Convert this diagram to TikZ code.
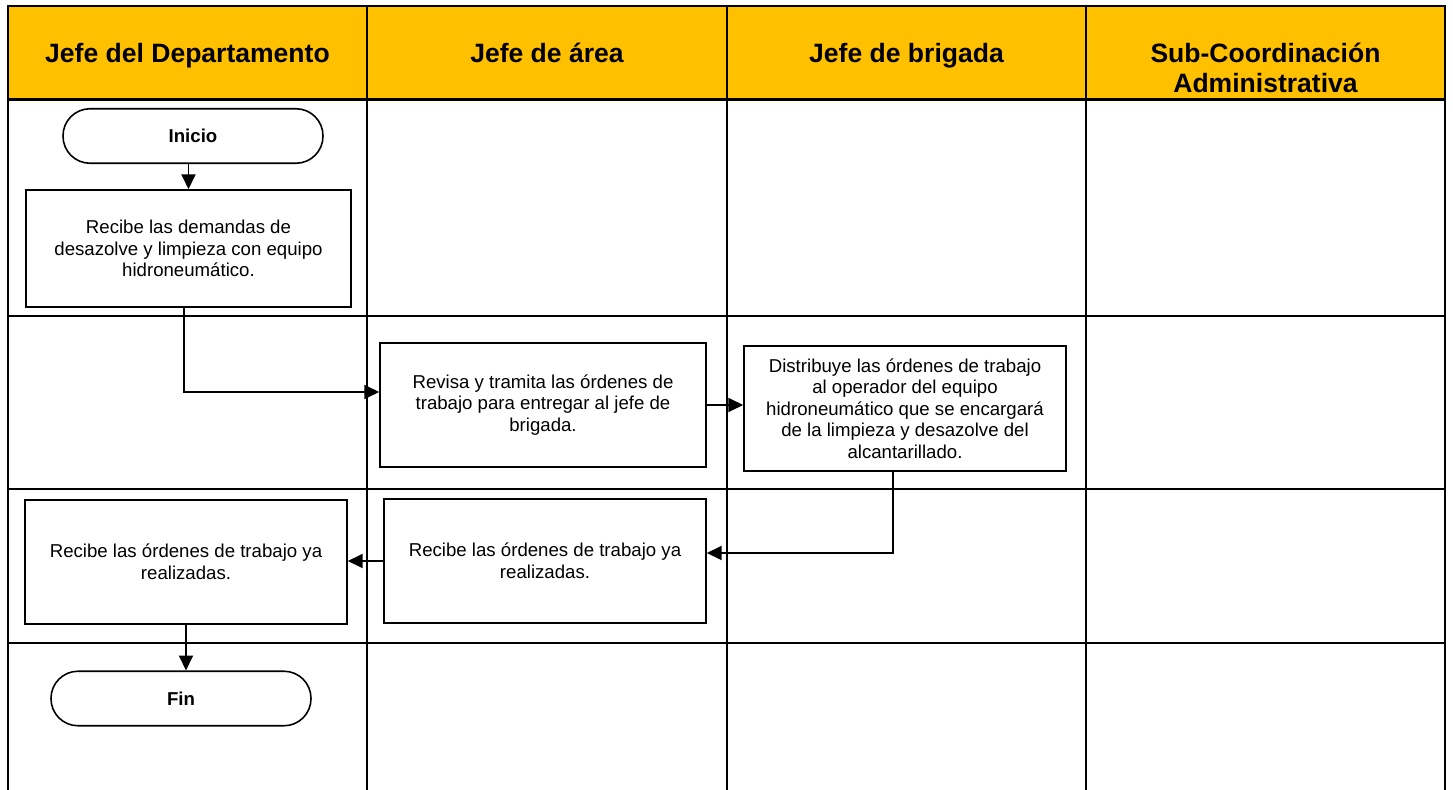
\documentclass[tikz,border=0pt]{standalone}
\usepackage{fontspec}
\setmainfont{Liberation Sans}
\usetikzlibrary{arrows.meta}
\definecolor{gold}{HTML}{FFC000}

\begin{document}
\begin{tikzpicture}[
  lane/.style={line width=1.2pt},
  head/.style={font=\fontsize{15.1}{17}\selectfont\bfseries, align=center},
  term/.style={draw, line width=0.9pt, rounded corners=0.54cm, minimum width=5.2cm, minimum height=1.09cm, font=\fontsize{10.6}{12.3}\selectfont\bfseries},
  task/.style={draw, line width=0.9pt, align=center, minimum width=6.44cm, minimum height=2.48cm, font=\fontsize{10.6}{12.3}\selectfont},
  flow/.style={line width=1pt, -{Triangle[length=8.5pt,width=8pt]}}
]
  \useasboundingbox (0,0) rectangle (29.06,-15.8);
  \fill[gold] (0.16,-0.12) rectangle (28.90,-1.99);
  \draw[lane] (0.16,-15.8) -- (0.16,-0.12) -- (28.90,-0.12) -- (28.90,-15.8);
  \draw[lane] (7.34,-0.12) -- (7.34,-15.8);
  \draw[lane] (14.54,-0.12) -- (14.54,-15.8);
  \draw[lane] (21.72,-0.12) -- (21.72,-15.8);
  \draw[lane] (0.16,-1.99) -- (28.90,-1.99);
  \draw[lane] (0.16,-6.32) -- (28.90,-6.32);
  \draw[lane] (0.16,-9.78) -- (28.90,-9.78);
  \draw[lane] (0.16,-12.86) -- (28.90,-12.86);

  \node[head, anchor=base] (jd) at (3.75,-1.25)  {Jefe del Departamento};
  \node[head, anchor=base] (ja) at (10.94,-1.25) {Jefe de área};
  \node[head, anchor=base] (jb) at (18.13,-1.25) {Jefe de brigada};
  \node[head] (sc) at (25.31,-1.36) {Sub-Coordinación\\Administrativa};

  \node[term] (ini) at (3.86,-2.72) {Inicio};
  \node[task, minimum width=6.5cm, minimum height=2.34cm] (rec) at (3.77,-4.97)
    {Recibe las demandas de\\desazolve y limpieza con equipo\\hidroneumático.};
  \node[task, minimum width=6.52cm] (rev) at (10.86,-8.10)
    {Revisa y tramita las órdenes de\\trabajo para entregar al jefe de\\brigada.};
  \node[task, minimum height=2.5cm] (dis) at (18.10,-8.17)
    {Distribuye las órdenes de trabajo\\al operador del equipo\\hidroneumático que se encargará\\de la limpieza y desazolve del\\alcantarillado.};
  \node[task] (rya) at (10.90,-11.22) {Recibe las órdenes de trabajo ya\\realizadas.};
  \node[task] (ryd) at (3.72,-11.24)  {Recibe las órdenes de trabajo ya\\realizadas.};
  \node[term] (fin) at (3.62,-13.97) {Fin};

  \draw[flow] (rec.north |- ini.south) -- (rec.north);
  \draw[flow] ([xshift=-0.09cm]rec.south) |- ([yshift=0.26cm]rev.west);
  \draw[flow] (rev.east) -- (rev.east -| dis.west);
  \draw[flow] ([xshift=-0.24cm]dis.south) |- ([yshift=0.16cm]rya.east);
  \draw[flow] (rya.west) -- (rya.west -| ryd.east);
  \draw[flow] (ryd.south) -- (ryd.south |- fin.north);
\end{tikzpicture}
\end{document}
